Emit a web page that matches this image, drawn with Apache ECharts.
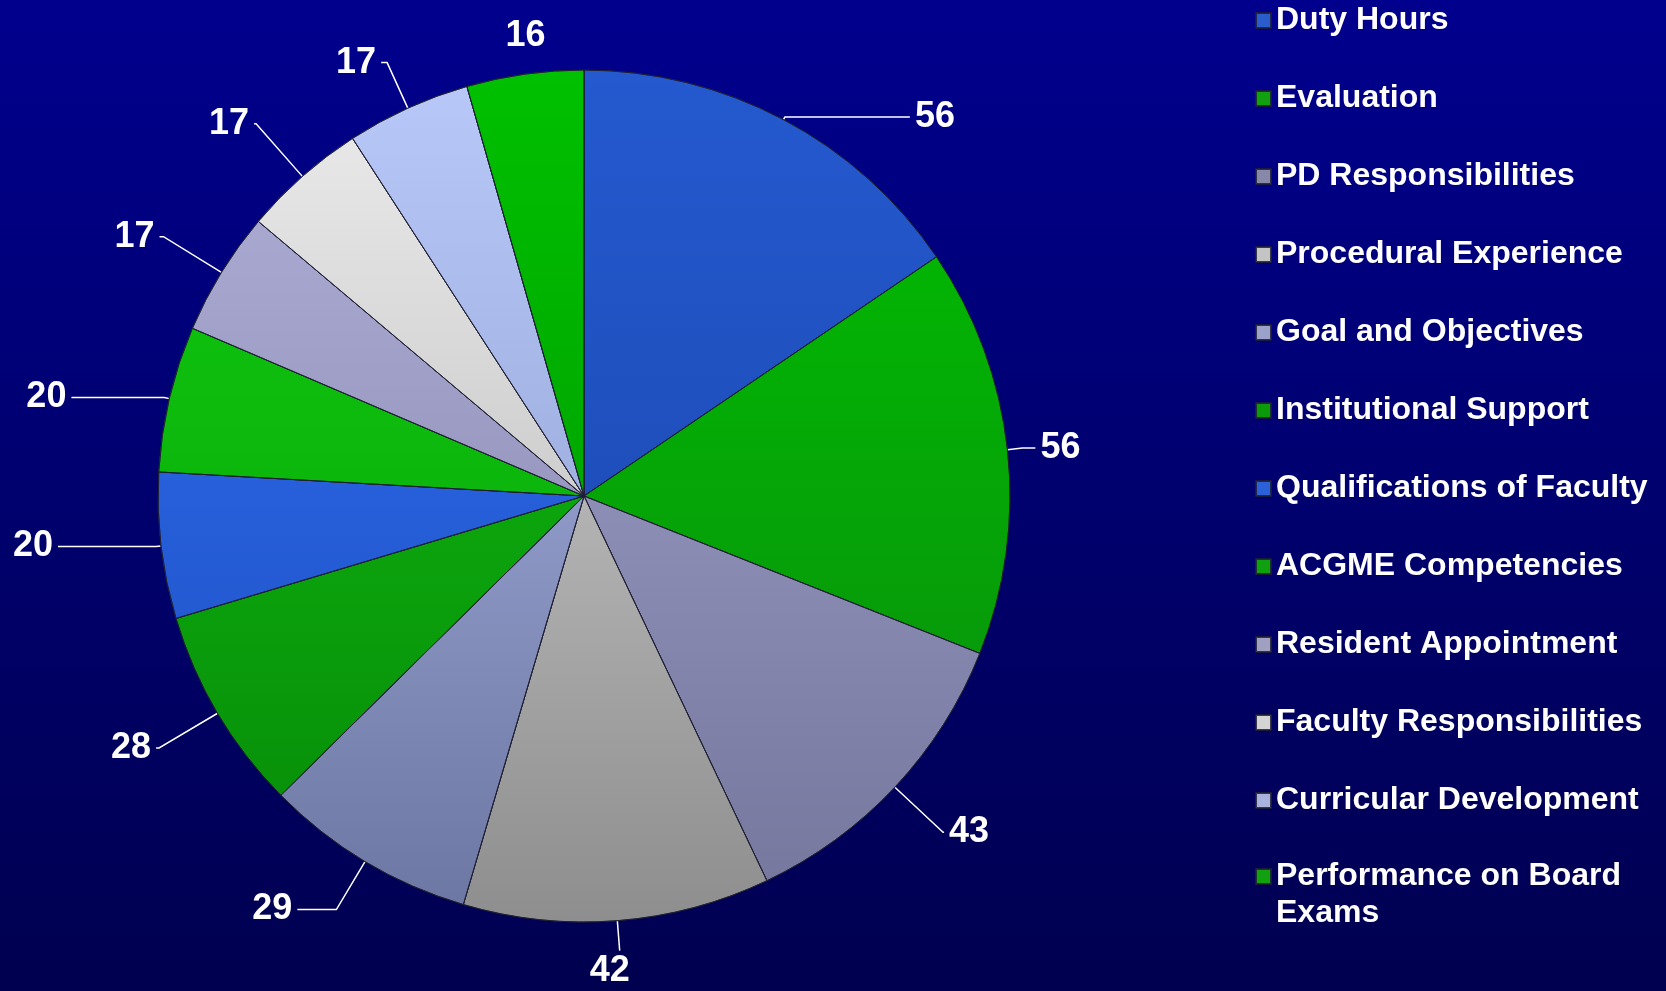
<!DOCTYPE html>
<html>
<head>
<meta charset="utf-8">
<script src="https://cdn.jsdelivr.net/npm/echarts@6/dist/echarts.min.js"></script>
<style>
  html, body { margin: 0; padding: 0; }
  #main { width: 1666px; height: 991px; }
</style>
</head>
<body>
<div id="main"></div>
<script>
const categories = [
  'Duty Hours', 'Evaluation', 'PD Responsibilities', 'Procedural Experience',
  'Goal and Objectives', 'Institutional Support', 'Qualifications of Faculty',
  'ACGME Competencies', 'Resident Appointment', 'Faculty Responsibilities',
  'Curricular Development', 'Performance on Board Exams'
];
const values = [56, 56, 43, 42, 29, 28, 20, 20, 17, 17, 17, 16];

// light (top of pie) -> dark (bottom of pie)
const sliceColors = [
  ['#2459cf', '#1a44a8'],
  ['#00c000', '#0a8a0e'],
  ['#a4a6d0', '#74769c'],
  ['#d8d8d8', '#8e8e8e'],
  ['#b0bcec', '#6c76a2'],
  ['#12c012', '#068a08'],
  ['#2e72f2', '#1e4cc0'],
  ['#10cc10', '#08a008'],
  ['#b0b0d8', '#8080a8'],
  ['#ececec', '#b0b0b0'],
  ['#b8c8f8', '#8898c8'],
  ['#00c000', '#009000']
];
const legendColors = [
  '#2a5ccc', '#10a010', '#8888a8', '#c4c4c4', '#9aa2cc', '#0a9a0a',
  '#2a60d8', '#0ea00e', '#a0a0c0', '#d4d4d4', '#a8b2dc', '#10a010'
];
// leader line lengths [radial, horizontal] per slice
const leader = [
  [3, 125], [15, 13], [66, 1], [30, 0], [56, 39], [68, 3],
  [5, 98], [5, 93], [68, 4], [70, 2], [50, 6], [38, 0]
];

const chart = echarts.init(document.getElementById('main'));

function grad(c) {
  return {
    type: 'linear', x: 0, y: 71, x2: 0, y2: 921, global: true,
    colorStops: [{ offset: 0, color: c[0] }, { offset: 1, color: c[1] }]
  };
}

const legendText = {
  color: '#ffffff',
  fontSize: 32,
  fontWeight: 'bold',
  fontFamily: 'Liberation Sans, Arial, sans-serif',
  lineHeight: 37
};

const option = {
  backgroundColor: {
    type: 'linear', x: 0, y: 0, x2: 0, y2: 1,
    colorStops: [{ offset: 0, color: '#00008e' }, { offset: 1, color: '#000050' }]
  },
  legend: [{
    orient: 'vertical',
    left: 1255,
    top: 2,
    padding: 0,
    itemWidth: 15,
    itemHeight: 15,
    itemGap: 41,
    icon: 'rect',
    textStyle: legendText,
    data: categories.slice(0, 11).map((n, i) => ({ name: n, itemStyle: { color: legendColors[i] } }))
  }, {
    orient: 'vertical',
    left: 1255,
    top: 821,
    padding: 0,
    itemWidth: 15,
    itemHeight: 15,
    icon: 'rect',
    textStyle: legendText,
    formatter: () => '\nPerformance on Board\nExams',
    data: [{ name: categories[11], itemStyle: { color: legendColors[11] } }]
  }],
  series: [{
    type: 'pie',
    center: [584, 496],
    radius: 426,
    startAngle: 90,
    clockwise: true,
    avoidLabelOverlap: false,
    itemStyle: {
      borderColor: 'rgba(30,30,50,0.85)',
      borderWidth: 1
    },
    label: {
      show: true,
      position: 'outside',
      formatter: '{c}',
      color: '#ffffff',
      fontSize: 36,
      fontWeight: 'bold',
      fontFamily: 'Liberation Sans, Arial, sans-serif'
    },
    labelLine: {
      show: true,
      lineStyle: { color: '#ffffff', width: 1.5 }
    },
    labelLayout: function (p) {
      const name = categories[p.dataIndex];
      const pts = p.labelLinePoints;
      if (!pts) return {};
      if (name === 'Procedural Experience') {
        return {
          x: pts[1][0] - 10, y: pts[1][1] + 2,
          align: 'center', verticalAlign: 'top',
          labelLinePoints: [pts[0], pts[1], pts[1]]
        };
      }
      if (name === 'Performance on Board Exams') {
        return {
          x: pts[1][0] + 6, y: pts[1][1],
          align: 'center', verticalAlign: 'middle',
          labelLinePoints: [pts[0], pts[0], pts[0]]
        };
      }
      return {};
    },
    emphasis: { scale: false },
    data: categories.map((n, i) => ({
      name: n,
      value: values[i],
      itemStyle: { color: grad(sliceColors[i]) },
      labelLine: {
        length: leader[i][0],
        length2: leader[i][1],
        lineStyle: n === 'Performance on Board Exams' ? { opacity: 0 } : {}
      }
    }))
  }]
};

chart.setOption(option);
</script>
</body>
</html>
